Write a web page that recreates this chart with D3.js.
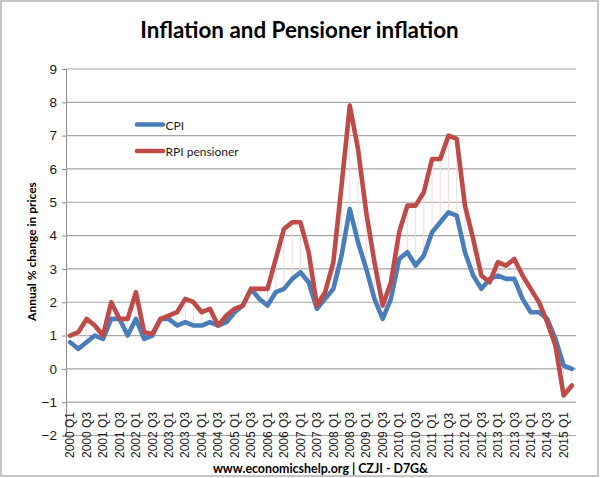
<!DOCTYPE html>
<html>
<head>
<meta charset="utf-8">
<script src="https://cdn.jsdelivr.net/npm/d3@7/dist/d3.min.js"></script>
<style>
  html, body { margin: 0; padding: 0; background: #fff; }
  svg { display: block; font-family: Lato, "Open Sans", sans-serif; }
  .tick text { fill: #1a1a1a; }
</style>
</head>
<body>
<svg id="chart" width="600" height="478"></svg>
<script>
const years = d3.range(2000, 2016);
const quarters = years.flatMap(y => [1, 2, 3, 4].map(q => `${y} Q${q}`)).slice(0, 62);
const tickLabels = quarters.filter((d, i) => i % 2 === 0);

const cpi = [
  0.8, 0.6, 0.8, 1.0,
  0.9, 1.5, 1.5, 1.0,
  1.5, 0.9, 1.0, 1.5,
  1.5, 1.3, 1.4, 1.3,
  1.3, 1.4, 1.3, 1.4,
  1.7, 1.9, 2.4, 2.1,
  1.9, 2.3, 2.4, 2.7,
  2.9, 2.6, 1.8, 2.1,
  2.4, 3.4, 4.8, 3.8,
  3.0, 2.1, 1.5, 2.1,
  3.3, 3.5, 3.1, 3.4,
  4.1, 4.4, 4.7, 4.6,
  3.5, 2.8, 2.4, 2.7,
  2.8, 2.7, 2.7, 2.1,
  1.7, 1.7, 1.5, 0.9,
  0.1, 0.0
];
const rpi = [
  1.0, 1.1, 1.5, 1.3,
  1.0, 2.0, 1.5, 1.5,
  2.3, 1.1, 1.05, 1.5,
  1.6, 1.7, 2.1, 2.0,
  1.7, 1.8, 1.3, 1.6,
  1.8, 1.9, 2.4, 2.4,
  2.4, 3.3, 4.2, 4.4,
  4.4, 3.5, 1.9, 2.3,
  3.2, 5.5, 7.9, 6.6,
  4.7, 3.2, 1.9, 2.6,
  4.1, 4.9, 4.9, 5.3,
  6.3, 6.3, 7.0, 6.9,
  4.9, 3.9, 2.8, 2.6,
  3.2, 3.1, 3.3, 2.8,
  2.4, 2.0, 1.4, 0.7,
  -0.8, -0.5
];
const yTicks = d3.range(-2, 10);

const svg = d3.select("#chart");

// frame
svg.append("rect")
  .attr("x", 1).attr("y", 1).attr("width", 597).attr("height", 475)
  .attr("fill", "#fff").attr("stroke", "#b3b3b3").attr("stroke-width", 1.5);

const x = d3.scaleBand().domain(quarters).range([66, 576]);
const y = d3.scaleLinear().domain([-2, 9]).range([435.5, 69]);
const cx = d => x(d) + x.bandwidth() / 2;

// gridlines + y axis
const yAxis = svg.append("g")
  .attr("transform", "translate(66,0)")
  .call(d3.axisLeft(y).tickValues(yTicks).tickSize(4).tickPadding(5).tickFormat(d3.format("d")));
yAxis.selectAll("line").attr("stroke", "#8c8c8c").attr("stroke-width", 1);
yAxis.select(".domain").attr("stroke", "#8c8c8c").attr("stroke-width", 1);
yAxis.selectAll("text").attr("font-size", 13.5);

svg.append("g").selectAll("line").data(yTicks).join("line")
  .attr("x1", 66).attr("x2", 576)
  .attr("y1", d => y(d)).attr("y2", d => y(d))
  .attr("stroke", "#a6a6a6").attr("stroke-width", 1.2);

// x labels, rotated
const xAxis = svg.append("g")
  .attr("transform", "translate(0,458)")
  .call(d3.axisBottom(x).tickValues(tickLabels).tickSize(0));
xAxis.select(".domain").remove();
xAxis.selectAll(".tick text")
  .attr("font-size", 12)
  .attr("text-anchor", "start")
  .attr("dy", "0.35em")
  .attr("transform", "rotate(-90)")
  .attr("x", 0).attr("y", 0);

// high-low connectors
svg.append("g").selectAll("line").data(quarters).join("line")
  .attr("x1", cx).attr("x2", cx)
  .attr("y1", (d, i) => y(cpi[i])).attr("y2", (d, i) => y(rpi[i]))
  .attr("stroke", "#f3dcdc").attr("stroke-width", 1);

const line = d3.line().x((d, i) => cx(quarters[i])).y(d => y(d));
svg.append("path").datum(cpi).attr("d", line).attr("fill", "none")
  .attr("stroke", "#4a7ebb").attr("stroke-width", 4.6).attr("stroke-linejoin", "round").attr("stroke-linecap", "round");
svg.append("path").datum(rpi).attr("d", line).attr("fill", "none")
  .attr("stroke", "#be4b48").attr("stroke-width", 4.6).attr("stroke-linejoin", "round").attr("stroke-linecap", "round");

// legend
const legend = [["CPI", "#4a7ebb", 124.5], ["RPI pensioner", "#be4b48", 151]];
legend.forEach(([name, color, ly]) => {
  svg.append("line").attr("x1", 137).attr("x2", 163).attr("y1", ly).attr("y2", ly)
    .attr("stroke", color).attr("stroke-width", 4.6).attr("stroke-linecap", "round");
  svg.append("text").attr("x", 165.5).attr("y", ly + 5).attr("font-size", 12).attr("fill", "#1a1a1a").text(name);
});

// titles
svg.append("text").attr("x", 299.5).attr("y", 38).attr("text-anchor", "middle")
  .attr("font-size", 22.4).attr("font-weight", 700).attr("fill", "#000").text("Inflation and Pensioner inflation");
svg.append("text").attr("transform", "translate(36,251.5) rotate(-90)").attr("text-anchor", "middle")
  .attr("font-size", 12).attr("font-weight", 700).attr("fill", "#000").text("Annual % change in prices");
svg.append("text").attr("x", 320.5).attr("y", 473).attr("text-anchor", "middle")
  .attr("font-size", 12.4).attr("font-weight", 700).attr("fill", "#000").text("www.economicshelp.org | CZJI - D7G&");
</script>
</body>
</html>
